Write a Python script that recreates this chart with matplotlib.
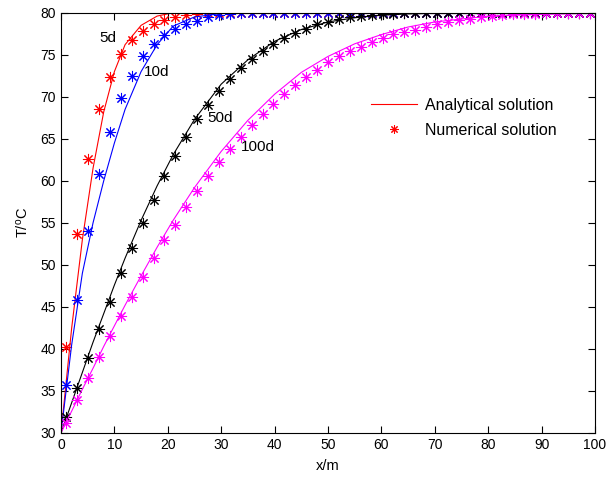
import numpy as np
import matplotlib
matplotlib.use("Agg")
import matplotlib.pyplot as plt

plt.rcParams['font.family'] = ['Liberation Sans', 'DejaVu Sans']
plt.rcParams['mathtext.fontset'] = 'custom'
plt.rcParams['mathtext.rm'] = 'Liberation Sans'
plt.rcParams['mathtext.default'] = 'regular'

# Analytical solution, sampled along x (m)
x_line = [0, 2, 4, 6, 8, 10, 12, 15, 18, 21, 25, 30, 35, 40, 45, 50, 55, 60, 65, 70, 80, 90, 100]
T_ana_5d = [30.0, 42.5, 53.0, 61.5, 68.2, 73.0, 76.2, 78.5, 79.6, 80.0, 80.0, 80.0, 80.0, 80.0,
            80.0, 80.0, 80.0, 80.0, 80.0, 80.0, 80.0, 80.0, 80.0]
T_ana_10d = [30.0, 40.5, 49.0, 55.0, 60.0, 64.5, 68.5, 73.0, 76.2, 78.4, 79.5, 79.9, 80.0, 80.0,
             80.0, 80.0, 80.0, 80.0, 80.0, 80.0, 80.0, 80.0, 80.0]
T_ana_50d = [30.0, 33.6, 37.2, 40.8, 44.2, 47.6, 50.8, 55.3, 59.4, 63.1, 67.3, 71.5, 74.4, 76.6,
             78.0, 78.9, 79.4, 79.7, 79.86, 79.93, 80.0, 80.0, 80.0]
T_ana_100d = [30.0, 32.6, 35.2, 37.7, 40.3, 42.75, 45.2, 48.7, 52.1, 55.3, 59.2, 63.5, 67.2, 70.3,
              72.9, 74.8, 76.3, 77.4, 78.3, 78.9, 79.6, 79.8, 79.95]

# Numerical solution on the 49 node grid
x_num = np.linspace(1.0, 99.0, 49)
T_num_5d = [40.2, 53.7, 62.6, 68.5, 72.4, 75.1, 76.7, 77.8, 78.6, 79.1, 79.45, 79.7, 79.85, 80.0,
            80.0, 80.0, 80.0, 80.0, 80.0, 80.0, 80.0, 80.0, 80.0, 80.0, 80.0, 80.0, 80.0, 80.0,
            80.0, 80.0, 80.0, 80.0, 80.0, 80.0, 80.0, 80.0, 80.0, 80.0, 80.0, 80.0, 80.0, 80.0,
            80.0, 80.0, 80.0, 80.0, 80.0, 80.0, 80.0]
T_num_10d = [35.7, 45.8, 54.05, 60.8, 65.8, 69.8, 72.5, 74.8, 76.3, 77.4, 78.1, 78.65, 79.05, 79.45,
             79.7, 79.85, 79.95, 80.0, 80.0, 80.0, 80.0, 80.0, 80.0, 80.0, 80.0, 80.0, 80.0, 80.0,
             80.0, 80.0, 80.0, 80.0, 80.0, 80.0, 80.0, 80.0, 80.0, 80.0, 80.0, 80.0, 80.0, 80.0,
             80.0, 80.0, 80.0, 80.0, 80.0, 80.0, 80.0]
T_num_50d = [31.9, 35.3, 38.9, 42.4, 45.6, 49.0, 52.0, 55.0, 57.75, 60.6, 63.0, 65.2, 67.35, 69.05,
             70.7, 72.1, 73.4, 74.5, 75.4, 76.3, 76.95, 77.55, 78.06, 78.6, 78.9, 79.2, 79.45, 79.6,
             79.7, 79.8, 79.9, 79.95, 80.0, 80.0, 80.0, 80.0, 80.0, 80.0, 80.0, 80.0, 80.0, 80.0,
             80.0, 80.0, 80.0, 80.0, 80.0, 80.0, 80.0]
T_num_100d = [31.2, 33.9, 36.55, 39.05, 41.5, 43.9, 46.2, 48.6, 50.8, 52.9, 54.8, 56.9, 58.8, 60.6,
              62.2, 63.8, 65.2, 66.6, 67.9, 69.1, 70.3, 71.4, 72.3, 73.2, 74.1, 74.8, 75.4, 75.95,
              76.5, 76.95, 77.5, 77.75, 78.0, 78.3, 78.6, 78.9, 79.1, 79.3, 79.45, 79.6, 79.7, 79.8,
              79.85, 79.9, 79.95, 80.0, 80.0, 80.0, 80.0]

series = [
    ("5d", T_ana_5d, T_num_5d, "#ff0000"),
    ("10d", T_ana_10d, T_num_10d, "#0000ff"),
    ("50d", T_ana_50d, T_num_50d, "#000000"),
    ("100d", T_ana_100d, T_num_100d, "#ff00ff"),
]
# label anchor points (x, T)
label_pos = {"5d": (8.8, 77.0), "10d": (18.0, 72.9), "50d": (29.8, 67.5), "100d": (36.9, 64.0)}

star = (8, 2, 0)

fig = plt.figure(figsize=(6.1, 4.8), dpi=100)
ax = fig.add_axes([0.1, 0.098, 0.8754, 0.8755])

for name, ta, tn, col in series:
    ax.plot(x_line, ta, '-', color=col, lw=0.8)
    ax.plot(x_num, tn, linestyle='none', marker=star, markersize=8, markeredgewidth=0.75,
            color=col)
    lx, ly = label_pos[name]
    ax.text(lx, ly, name, fontsize=11, ha='center', va='center')

# legend entries
h1, = ax.plot([], [], '-', color='#ff0000', lw=0.8)
h2, = ax.plot([], [], linestyle='none', marker=star, markersize=6, markeredgewidth=0.75,
              color='#ff0000')
ax.legend([h1, h2], ['Analytical solution', 'Numerical solution'], loc='center left',
          bbox_to_anchor=(0.58, 0.75), frameon=False, fontsize=11.5, handlelength=2.9,
          handletextpad=0.5, borderpad=0, borderaxespad=0, labelspacing=0.65)

ax.set_xlim(0, 100)
ax.set_ylim(30, 80)
ax.set_xticks(np.arange(0, 101, 10))
ax.set_yticks(np.arange(30, 81, 5))
ax.tick_params(direction='in', top=True, right=True, length=5, width=0.8, labelsize=10)
for s in ax.spines.values():
    s.set_linewidth(0.8)
ax.set_xlabel('x/m', fontsize=10.5, labelpad=5)
ax.set_ylabel('T/$^o$C', fontsize=10.5, labelpad=7)

fig.savefig('out.png', dpi=100)
